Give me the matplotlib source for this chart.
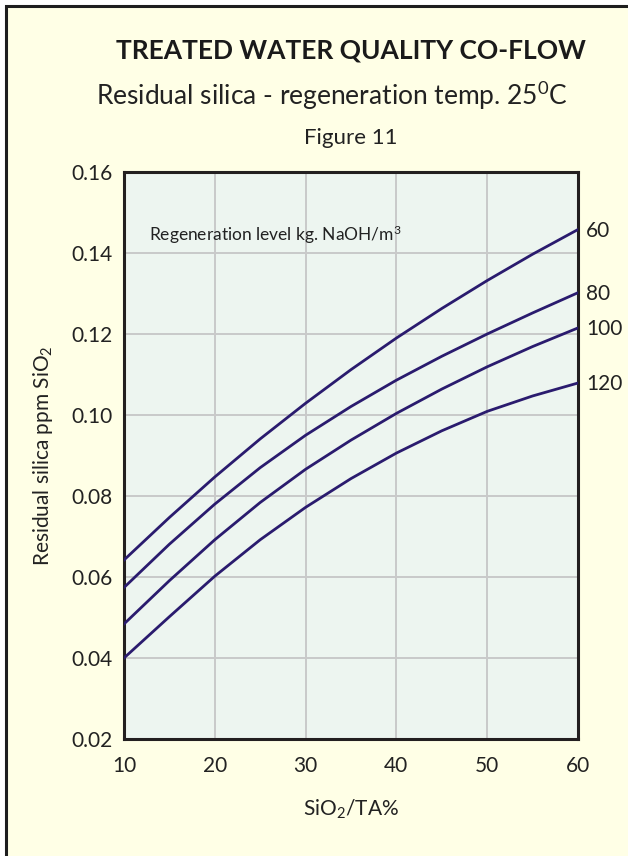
import matplotlib.pyplot as plt
from matplotlib.patches import Rectangle

plt.rcParams['font.family'] = ['Lato', 'DejaVu Sans']
plt.rcParams['mathtext.fontset'] = 'custom'
plt.rcParams['mathtext.rm'] = 'Lato'
plt.rcParams['mathtext.it'] = 'Lato'

# SiO2/TA % values
ratio = [10, 15, 20, 25, 30, 35, 40, 45, 50, 55, 60]

# residual silica (ppm SiO2) for each regeneration level
level_60 = [0.0642, 0.0747, 0.0847, 0.0941, 0.1029, 0.1112, 0.1190, 0.1263, 0.1332, 0.1397, 0.1458]
level_80 = [0.0574, 0.0681, 0.0780, 0.0870, 0.0950, 0.1021, 0.1086, 0.1145, 0.1200, 0.1252, 0.1302]
level_100 = [0.0484, 0.0591, 0.0692, 0.0784, 0.0866, 0.0938, 0.1004, 0.1064, 0.1119, 0.1169, 0.1215]
level_120 = [0.0400, 0.0502, 0.0602, 0.0692, 0.0772, 0.0843, 0.0906, 0.0961, 0.1009, 0.1047, 0.1079]

series = {'60': level_60, '80': level_80, '100': level_100, '120': level_120}

x_ticks = [10, 20, 30, 40, 50, 60]
y_ticks = [0.02, 0.04, 0.06, 0.08, 0.10, 0.12, 0.14, 0.16]

W, H = 628, 856
fig = plt.figure(figsize=(W / 100, H / 100), dpi=100)
fig.patch.set_facecolor('white')

# panel background with border (left/top visible)
fig.patches.append(Rectangle((6 / W, -0.1), 2, 1.1 - 6 / H, transform=fig.transFigure,
                             facecolor='#FFFFE6', edgecolor='#1E1E1E', linewidth=2.2, zorder=-10))

ax = fig.add_axes([124 / W, (H - 739) / H, (578 - 124) / W, (739 - 172) / H])
ax.set_facecolor('#EDF5F0')

line_color = '#2A1B6E'
for name, vals in series.items():
    ax.plot(ratio, vals, color=line_color, linewidth=2.0, solid_joinstyle='round', zorder=3)
    ax.annotate(name, xy=(ratio[-1], vals[-1]), xytext=(6, -1), textcoords='offset points',
                va='center', ha='left', fontsize=15, color='#222222', annotation_clip=False)

ax.set_xlim(10, 60)
ax.set_ylim(0.02, 0.16)
ax.set_xticks(x_ticks)
ax.set_yticks(y_ticks)
ax.set_yticklabels([f'{v:.2f}' for v in y_ticks])
ax.tick_params(length=0, labelsize=15, labelcolor='#222222')
ax.tick_params(axis='x', pad=12)
ax.tick_params(axis='y', pad=8)
ax.grid(True, color='#C9C9C9', linewidth=1.4, zorder=1)
ax.set_axisbelow(True)
for s in ax.spines.values():
    s.set_linewidth(2.2)
    s.set_color('#231F20')

ax.set_xlabel('SiO$_2$/TA%', fontsize=15, color='#222222', labelpad=16)
ax.set_ylabel('Residual silica ppm SiO$_2$', fontsize=15, color='#222222', labelpad=12)

ax.text(12.75, 0.1444, 'Regeneration level kg. NaOH/m$^3$', fontsize=12.5, color='#222222',
        va='center', ha='left')

fig.text(351 / W, 1 - 50 / H, 'TREATED WATER QUALITY CO-FLOW', fontsize=19, fontweight='bold',
         ha='center', va='center', color='#1A1A1A')
fig.text(332 / W, 1 - 96 / H, 'Residual silica - regeneration temp. 25$^0$C', fontsize=19,
         ha='center', va='center', color='#222222')
fig.text(351 / W, 1 - 138 / H, 'Figure 11', fontsize=16, ha='center', va='center', color='#222222')

fig.savefig('out.png', dpi=100, facecolor=fig.get_facecolor())
